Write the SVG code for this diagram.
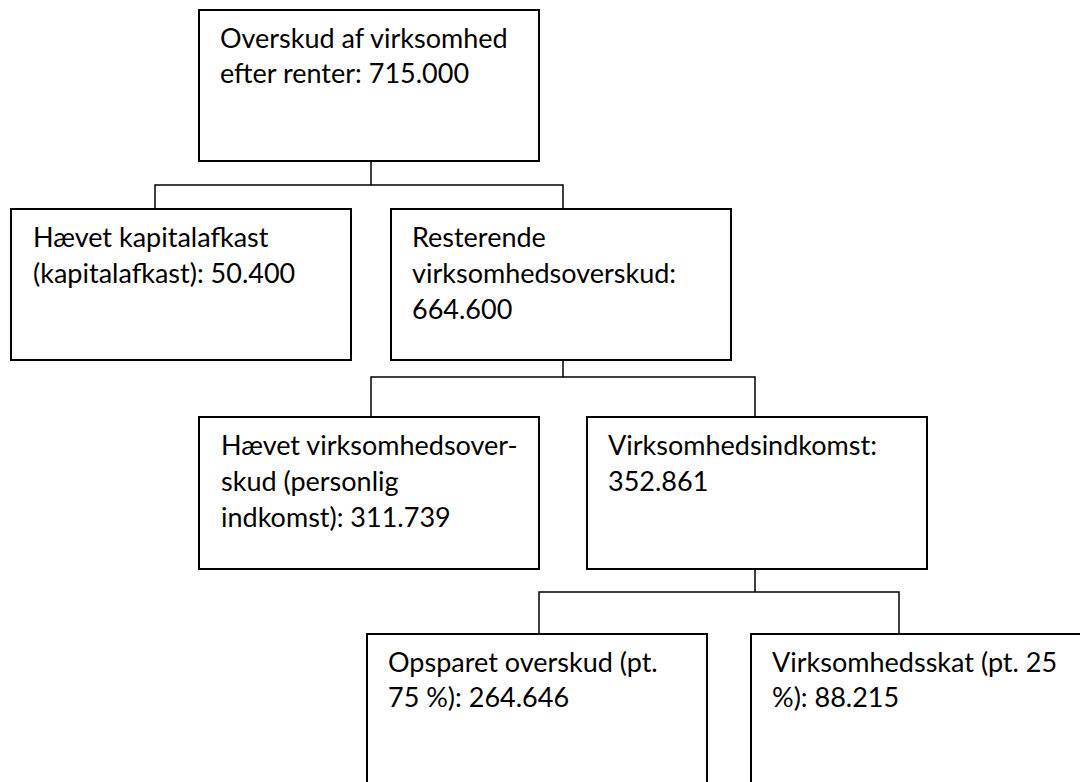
<svg xmlns="http://www.w3.org/2000/svg" width="1080" height="782" viewBox="0 0 1080 782">
<style>
.box{fill:#fff;stroke:#000;stroke-width:2}
.lbl{font-family:Lato,"Open Sans","Liberation Sans",sans-serif;font-size:27px;fill:#000}
.con{fill:none;stroke:#000;stroke-width:1.5}
</style>
<rect width="1080" height="782" fill="#fff"/>
<g id="connectors">
<path class="con" d="M371,161 V185 M155,209 V185 H563 V209"/>
<path class="con" d="M563,352 V377 M371,425 V377 H755 V425"/>
<path class="con" d="M755,569 V592 M539,641 V592 H899 V641"/>
</g>
<g id="n1">
<rect class="box" x="199" y="10" width="340" height="151"/>
<text class="lbl"><tspan x="220" y="48">Overskud af virksomhed</tspan><tspan x="220" y="83">efter renter: 715.000</tspan></text>
</g>
<g id="n2">
<rect class="box" x="11" y="209" width="340" height="151"/>
<text class="lbl"><tspan x="33" y="247">Hævet kapitalafkast</tspan><tspan x="33" y="283">(kapitalafkast): 50.400</tspan></text>
</g>
<g id="n3">
<rect class="box" x="391" y="209" width="340" height="151"/>
<text class="lbl"><tspan x="412" y="247">Resterende</tspan><tspan x="412" y="283">virksomhedsoverskud:</tspan><tspan x="412" y="319">664.600</tspan></text>
</g>
<g id="n4">
<rect class="box" x="199" y="417" width="340" height="152"/>
<text class="lbl"><tspan x="221" y="455">Hævet virksomhedsover-</tspan><tspan x="221" y="491">skud (personlig</tspan><tspan x="221" y="527">indkomst): 311.739</tspan></text>
</g>
<g id="n5">
<rect class="box" x="587" y="417" width="340" height="152"/>
<text class="lbl"><tspan x="608" y="455">Virksomhedsindkomst:</tspan><tspan x="608" y="491">352.861</tspan></text>
</g>
<g id="n6">
<rect class="box" x="367" y="634" width="340" height="160"/>
<text class="lbl"><tspan x="388" y="672">Opsparet overskud (pt.</tspan><tspan x="388" y="707">75 %): 264.646</tspan></text>
</g>
<g id="n7">
<rect class="box" x="751" y="634" width="340" height="160"/>
<text class="lbl"><tspan x="772" y="672">Virksomhedsskat (pt. 25</tspan><tspan x="772" y="707">%): 88.215</tspan></text>
</g>
</svg>
